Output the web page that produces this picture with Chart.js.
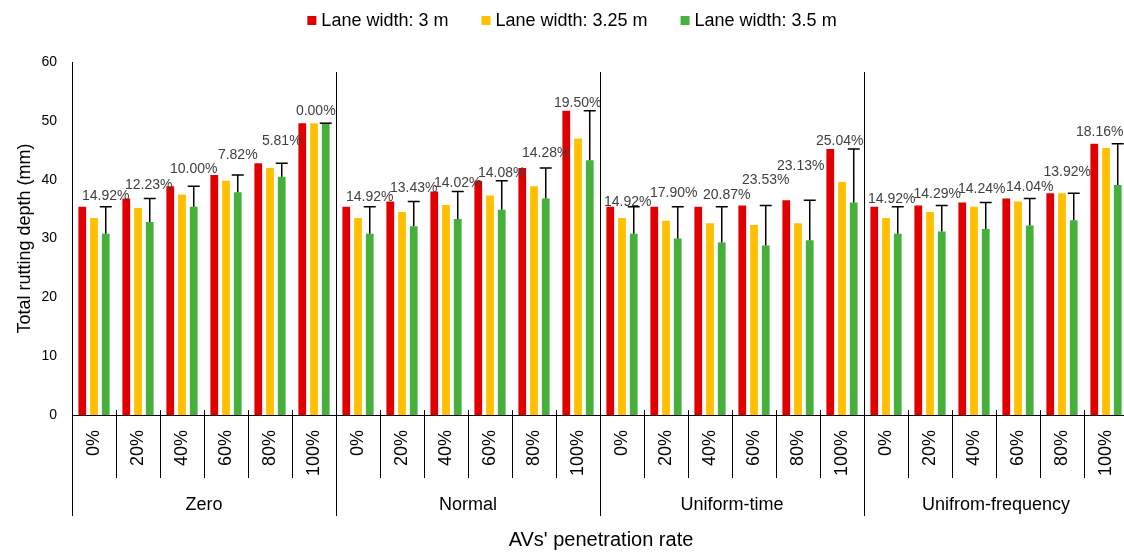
<!DOCTYPE html>
<html>
<head>
<meta charset="utf-8">
<title>Total rutting depth</title>
<script src="https://cdn.jsdelivr.net/npm/chart.js@4.4.1/dist/chart.umd.min.js"></script>
<style>
  html, body { margin: 0; padding: 0; background: #fff; overflow: hidden; }
  #wrap { width: 1128px; height: 552px; }
</style>
</head>
<body>
<div id="wrap"><canvas id="ruttingChart" width="1128" height="552"></canvas></div>
<script>
// Dados
const groups = ['Zero', 'Normal', 'Uniform-time', 'Unifrom-frequency'];
const rates = ['0%', '20%', '40%', '60%', '80%', '100%'];
const seriesNames = ['Lane width: 3 m', 'Lane width: 3.25 m', 'Lane width: 3.5 m'];

const width30 = [35.4, 36.8, 38.9, 40.8, 42.8, 49.6,
                 35.4, 36.3, 38.0, 39.8, 42.0, 51.7,
                 35.4, 35.4, 35.4, 35.6, 36.5, 45.2,
                 35.4, 35.6, 36.1, 36.8, 37.7, 46.1];
const width325 = [33.5, 35.2, 37.5, 39.8, 42.0, 49.6,
                  33.5, 34.5, 35.7, 37.3, 38.9, 47.0,
                  33.5, 33.0, 32.6, 32.3, 32.6, 39.6,
                  33.5, 34.5, 35.4, 36.3, 37.7, 45.4];
const width35 = [30.8, 32.8, 35.4, 37.85, 40.5, 49.6,
                 30.8, 32.1, 33.3, 34.9, 36.8, 43.3,
                 30.8, 30.0, 29.3, 28.8, 29.7, 36.1,
                 30.8, 31.2, 31.6, 32.2, 33.1, 39.1];
const gapLabels = ['14.92%', '12.23%', '10.00%', '7.82%', '5.81%', '0.00%',
                   '14.92%', '13.43%', '14.02%', '14.08%', '14.28%', '19.50%',
                   '14.92%', '17.90%', '20.87%', '23.53%', '23.13%', '25.04%',
                   '14.92%', '14.29%', '14.24%', '14.04%', '13.92%', '18.16%'];

// Ajustes manuais dos rótulos (px), como no original
const labelNudgeX = [0, -1, 0, 0, 0, -10,  0, 0, 0, 0, 0, -12,  -6, -4, 5, 0, -9, -14,  -6, -4.5, -4, 0, -6.5, -18];
const labelNudgeY = [6.7, 9.4, 13.4, 16, 18.4, 7.7,  5.7, 9.3, 4.3, 4.3, 11.3, 4,  0.7, 9.6, 8, 21.3, 30.7, 4.3,  3.3, 7.3, 10, 7.3, 17.3, 7.6];

const colors = ['#E00000', '#FFC000', '#45B03C'];
const FONT = '"Liberation Sans", Arial, sans-serif';

const categories = [];
groups.forEach(() => rates.forEach(r => categories.push(r)));

// Barras de erro, rótulos, separadores e legenda
const extrasPlugin = {
    id: 'extras',
    afterDraw(chart) {
        const ctx = chart.ctx;
        const x = chart.scales.x;
        const y = chart.scales.y;
        const area = chart.chartArea;
        const half = (x.getPixelForValue(1) - x.getPixelForValue(0)) / 2;
        const greenBars = chart.getDatasetMeta(2).data;

        ctx.save();
        // barras de erro (do verde até o vermelho)
        ctx.strokeStyle = '#000';
        ctx.lineWidth = 1.5;
        greenBars.forEach((bar, i) => {
            const top = y.getPixelForValue(width30[i]);
            ctx.beginPath();
            ctx.moveTo(bar.x, bar.y);
            ctx.lineTo(bar.x, top);
            ctx.moveTo(bar.x - 6, top);
            ctx.lineTo(bar.x + 6, top);
            ctx.stroke();
        });

        // rótulos percentuais
        ctx.fillStyle = '#404040';
        ctx.font = '14px ' + FONT;
        ctx.textAlign = 'center';
        ctx.textBaseline = 'alphabetic';
        greenBars.forEach((bar, i) => {
            const top = y.getPixelForValue(width30[i]);
            ctx.fillText(gapLabels[i], bar.x + labelNudgeX[i], top - labelNudgeY[i]);
        });

        // separadores do eixo x
        ctx.strokeStyle = '#000';
        ctx.lineWidth = 1;
        for (let i = 0; i < categories.length; i++) {
            const bx = Math.round(x.getPixelForValue(i) - half) + 0.5;
            ctx.beginPath();
            if (i % rates.length === 0) {
                ctx.moveTo(bx, i === 0 ? area.top : area.top + 10);
                ctx.lineTo(bx, 516);
            } else {
                ctx.moveTo(bx, area.bottom - 5);
                ctx.lineTo(bx, 478);
            }
            ctx.stroke();
        }

        // nomes dos grupos
        ctx.fillStyle = '#000';
        ctx.font = '18px ' + FONT;
        ctx.textBaseline = 'middle';
        groups.forEach((g, k) => {
            const first = x.getPixelForValue(k * rates.length) - half;
            const last = x.getPixelForValue((k + 1) * rates.length - 1) + half;
            ctx.fillText(g, (first + last) / 2, 505);
        });

        // título do eixo x
        ctx.font = '20px ' + FONT;
        ctx.fillText("AVs' penetration rate", 601, 540);

        // legenda
        ctx.font = '18px ' + FONT;
        ctx.textAlign = 'left';
        const box = 9, gap = 5, spacing = 33;
        const widths = seriesNames.map(n => ctx.measureText(n).width);
        let total = widths.reduce((a, w) => a + box + gap + w, 0) + spacing * (seriesNames.length - 1);
        let lx = 572 - total / 2;
        seriesNames.forEach((n, k) => {
            ctx.fillStyle = colors[k];
            ctx.fillRect(lx, 16, box, box);
            ctx.fillStyle = '#000';
            ctx.fillText(n, lx + box + gap, 21);
            lx += box + gap + widths[k] + spacing;
        });
        ctx.restore();
    }
};

document.addEventListener('DOMContentLoaded', function() {
    const ctx = document.getElementById('ruttingChart').getContext('2d');
    new Chart(ctx, {
        type: 'bar',
        data: {
            labels: categories,
            datasets: [width30, width325, width35].map((values, k) => ({
                label: seriesNames[k],
                data: values,
                backgroundColor: colors[k],
                borderWidth: 0,
                categoryPercentage: 0.8,
                barPercentage: 0.66
            }))
        },
        options: {
            responsive: false,
            animation: false,
            layout: { padding: { top: 62, left: 0, right: 0, bottom: 0 } },
            scales: {
                x: {
                    grid: { display: false, drawTicks: false },
                    border: { display: true, color: '#000', width: 1 },
                    ticks: {
                        minRotation: 90,
                        maxRotation: 90,
                        autoSkip: false,
                        padding: 15,
                        color: '#000',
                        font: { family: FONT, size: 18 }
                    },
                    afterFit(scale) {
                        scale.height = 137;
                        scale.paddingLeft = 0;
                        scale.paddingRight = 0;
                    }
                },
                y: {
                    min: 0,
                    max: 60,
                    grid: { display: false, drawTicks: false },
                    border: { display: true, color: '#000', width: 1 },
                    ticks: {
                        stepSize: 10,
                        padding: 15,
                        color: '#000',
                        font: { family: FONT, size: 14 }
                    },
                    title: {
                        display: true,
                        text: 'Total rutting depth (mm)',
                        color: '#000',
                        font: { family: FONT, size: 18 },
                        padding: { top: 14, bottom: 0 }
                    },
                    afterFit(scale) {
                        scale.width = 72;
                        scale.paddingTop = 0;
                    }
                }
            },
            plugins: {
                legend: { display: false },
                tooltip: { enabled: false }
            }
        },
        plugins: [extrasPlugin]
    });
});
</script>
</body>
</html>
